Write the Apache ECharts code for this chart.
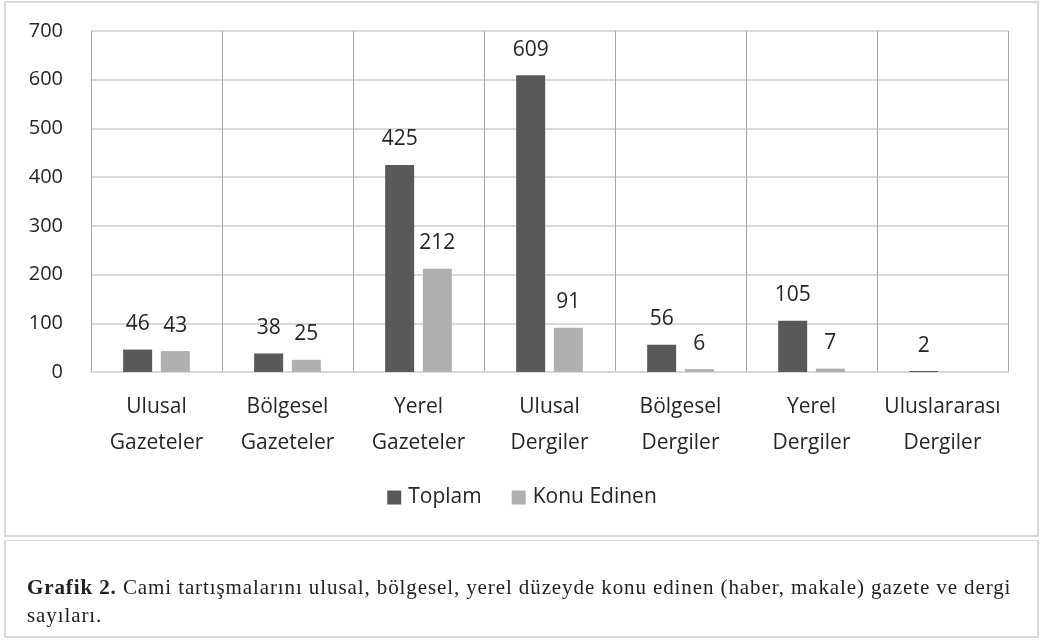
<!DOCTYPE html>
<html>
<head>
<meta charset="utf-8">
<script src="https://cdn.jsdelivr.net/npm/echarts@6/dist/echarts.min.js"></script>
<style>
    body { margin: 0; background: #fff; }
    #frame { position: absolute; left: 4px; top: 1px; width: 1031px; height: 532px; border: 2px solid #d9d9d9; }
    #chart { position: absolute; left: 0; top: 0; width: 1044px; height: 640px; }
    #caption { position: absolute; left: 4px; top: 540px; width: 1031px; height: 95px; border: 2px solid #d9d9d9; border-top-width: 1px;
        font-family: "Liberation Serif", serif; font-size: 21px; letter-spacing: 0.9px; color: #222; line-height: 28px; }
    #caption div { padding: 32px 6px 0 21px; }
</style>
</head>
<body>
<div id="frame"></div>
<div id="chart"></div>
<div id="caption"><div><b>Grafik 2.</b> Cami tartışmalarını ulusal, bölgesel, yerel düzeyde konu edinen (haber, makale) gazete ve dergi<br>sayıları.</div></div>
<script>
    var categories = ['Ulusal\nGazeteler', 'Bölgesel\nGazeteler', 'Yerel\nGazeteler', 'Ulusal\nDergiler', 'Bölgesel\nDergiler', 'Yerel\nDergiler', 'Uluslararası\nDergiler'];
    var toplam = [46, 38, 425, 609, 56, 105, 2];
    var konuEdinen = [43, 25, 212, 91, 6, 7, 0];
    var yTicks = [0, 100, 200, 300, 400, 500, 600, 700];

    var font = 'Open Sans';
    var labelStyle = {
        show: true,
        position: 'top',
        distance: 15,
        fontFamily: font,
        fontSize: 21,
        color: '#262626',
        formatter: function (p) { return p.value ? p.value : ''; }
    };

    var myChart = echarts.init(document.getElementById('chart'), null, {renderer: 'canvas'});
    myChart.setOption({
        animation: false,
        textStyle: {fontFamily: font},
        grid: {left: 91, right: 36, top: 31, bottom: 268, containLabel: false},
        legend: {
            top: 482,
            left: 'center',
            itemWidth: 14,
            itemHeight: 14,
            itemGap: 30,
            icon: 'rect',
            textStyle: {fontFamily: font, fontSize: 21, color: '#262626', padding: [0, 0, 0, 2]},
            data: ['Toplam', 'Konu Edinen']
        },
        xAxis: {
            type: 'category',
            data: categories,
            axisLine: {lineStyle: {color: '#d9d9d9', width: 2}},
            axisTick: {show: false},
            splitLine: {show: true, lineStyle: {color: '#a6a6a6', width: 1}},
            axisLabel: {fontFamily: font, fontSize: 21, color: '#262626', lineHeight: 36, margin: 17, interval: 0}
        },
        yAxis: {
            type: 'value',
            min: yTicks[0],
            max: yTicks[yTicks.length - 1],
            interval: 100,
            axisLine: {show: false},
            axisTick: {show: false},
            splitLine: {lineStyle: {color: '#d9d9d9', width: 2}},
            axisLabel: {fontFamily: font, fontSize: 20, color: '#262626', margin: 28}
        },
        series: [
            {
                name: 'Toplam',
                type: 'bar',
                data: toplam,
                barWidth: 29,
                barGap: '30%',
                itemStyle: {color: '#595959'},
                label: labelStyle
            },
            {
                name: 'Konu Edinen',
                type: 'bar',
                data: konuEdinen,
                barWidth: 29,
                itemStyle: {color: '#b0b0b0'},
                label: labelStyle
            }
        ]
    });
    window.addEventListener('resize', function () {
        myChart.resize();
    });
</script>
</body>
</html>
